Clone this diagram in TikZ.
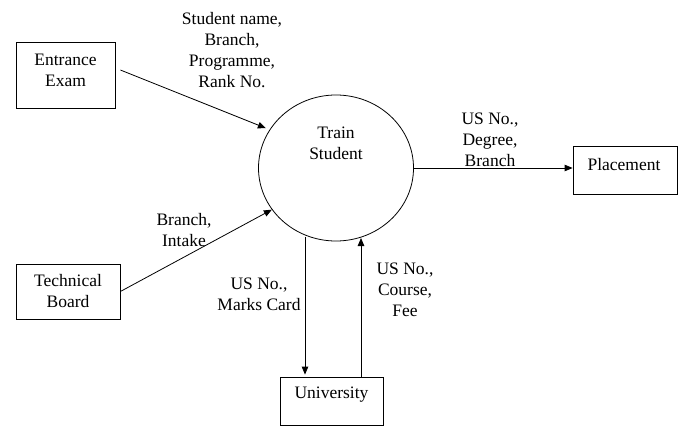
\documentclass[tikz,border=0pt]{standalone}
\usepackage{fontspec}
\setmainfont{Liberation Serif}
\usetikzlibrary{arrows.meta,shapes.geometric}
\begin{document}
\begin{tikzpicture}[x=1pt,y=-1pt,
  font=\fontsize{17.5}{21}\selectfont,
  box/.style={draw,line width=0.8pt,inner sep=0pt},
  lbl/.style={align=center,inner sep=0pt},
  arr/.style={line width=0.8pt,-{Triangle[length=8pt,width=6.5pt]}}]
\useasboundingbox (0,0) rectangle (681,428);
% boxes
\node[box,minimum width=99pt,minimum height=66pt] (ee) at (65.5,75) {};
\node[lbl] (eet) at (65.5,70.5) {Entrance\\Exam};
\node[box,minimum width=104pt,minimum height=55pt] (tb) at (68,291.5) {};
\node[lbl] (tbt) at (68,291.5) {Technical\\Board};
\node[box,minimum width=104pt,minimum height=48pt] (pl) at (625,170) {};
\node[lbl] (plt) at (624,165) {Placement};
\node[box,minimum width=103pt,minimum height=48pt] (un) at (331.5,401) {};
\node[lbl] (unt) at (331.5,395) {University};
% process
\node[draw,ellipse,line width=0.8pt,minimum width=155pt,minimum height=146pt,inner sep=0pt] (ts) at (336,168) {};
\node[lbl] (tst) at (336,143) {Train\\Student};
% connectors
\draw[arr,shorten >=4pt] ([shift={(5,-5)}]ee.east) -- (ts.150);
\draw[arr] (tb.east) -- (ts.213);
\draw[arr] (ts.east) -- (ts.east -| pl.west);
\coordinate (dtop) at ([shift={(-31,69)}]ts.center);
\coordinate (dbot) at ([shift={(-26.5,-2)}]un.north);
\draw[arr] (dtop) -- (dbot);
\coordinate (ubot) at ([xshift=29.5]un.north);
\coordinate (utop) at ([shift={(25,70)}]ts.center);
\draw[arr] (ubot) -- (utop);
% labels
\node[lbl] (l1) at (232,50) {Student name,\\Branch,\\Programme,\\Rank No.};
\node[lbl] (l2) at (184,230) {Branch,\\Intake};
\node[lbl] (l3) at (259,294.5) {US No.,\\Marks Card};
\node[lbl] (l4) at (405,290) {US No.,\\Course,\\Fee};
\node[lbl] (l5) at (490,140) {US No.,\\Degree,\\Branch};
\end{tikzpicture}
\end{document}
